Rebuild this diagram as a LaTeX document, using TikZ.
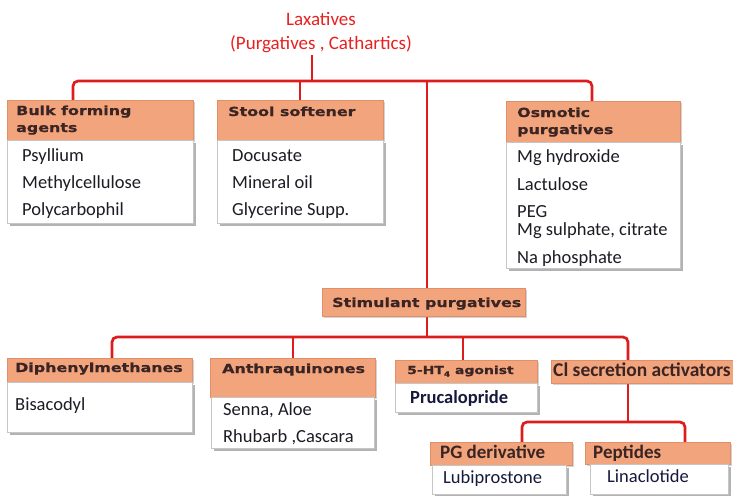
\documentclass[tikz,border=0pt]{standalone}
\usepackage{fontspec}
\setmainfont{Carlito}
\newfontfamily\hdrfont{DejaVu Sans}[UprightFont=* Bold, FakeStretch=1.27, FakeBold=0.6]
\usetikzlibrary{shadows}
\definecolor{salmon}{RGB}{242,164,124}
\definecolor{hdrborder}{RGB}{226,142,104}
\definecolor{linered}{RGB}{222,28,28}
\definecolor{titlered}{RGB}{232,32,32}
\definecolor{hdrtext}{RGB}{58,36,36}
\definecolor{bodytext}{RGB}{28,28,36}
\definecolor{navytext}{RGB}{22,24,60}
\pgfdeclarelayer{bg}
\pgfsetlayers{bg,main}
\tikzset{
  conn/.style={draw=linered, line width=2.7pt, rounded corners=5pt},
  hdr/.style={draw=hdrborder, fill=salmon, line width=0.6pt, anchor=north west, inner sep=0pt,
    drop shadow={shadow xshift=1.2pt, shadow yshift=-1.2pt, fill=gray, opacity=0.35}},
  bodybox/.style={draw=gray!45, fill=white, line width=0.8pt, anchor=north west, inner sep=0pt,
    drop shadow={shadow xshift=2.5pt, shadow yshift=-2.5pt, fill=gray, opacity=0.6}},
  htxt/.style={anchor=base west, inner sep=0pt, font=\hdrfont\fontsize{12.5}{14}\selectfont, text=hdrtext},
  btxt/.style={anchor=base west, inner sep=0pt, font=\fontsize{18.5}{20}\selectfont, text=bodytext},
  ctxt/.style={anchor=base west, inner sep=0pt, font=\bfseries\fontsize{19}{21}\selectfont, text=hdrtext},
  ttxt/.style={anchor=base, inner sep=0pt, font=\fontsize{19}{21}\selectfont, text=titlered},
}
\begin{document}
\begin{tikzpicture}[x=1pt,y=-1pt]
\useasboundingbox (0,0) rectangle (733,495);
\clip (0,0) rectangle (733,495);

% title
\node[ttxt] (title1) at (321,26) {Laxatives};
\node[ttxt] (title2) at (321,49) {(Purgatives , Cathartics)};

% first level boxes
\node[hdr, minimum width=186pt, minimum height=40pt] (bulkH) at (7,100) {};
\node[bodybox, minimum width=186pt, minimum height=83pt] (bulkB) at (7,140) {};
\node[htxt] (bulkT1) at (16,115) {Bulk forming};
\node[htxt] (bulkT2) at (16,132) {agents};
\node[btxt] (bulk1) at (22,161) {Psyllium};
\node[btxt] (bulk2) at (22,188) {Methylcellulose};
\node[btxt] (bulk3) at (22,215) {Polycarbophil};

\node[hdr, minimum width=166pt, minimum height=40pt] (stoolH) at (217,100) {};
\node[bodybox, minimum width=166pt, minimum height=83pt] (stoolB) at (217,140) {};
\node[htxt] (stoolT) at (228,116) {Stool softener};
\node[btxt] (stool1) at (232,161) {Docusate};
\node[btxt] (stool2) at (232,188) {Mineral oil};
\node[btxt] (stool3) at (232,215) {Glycerine Supp.};

\node[hdr, minimum width=174pt, minimum height=41pt] (osmH) at (506,101) {};
\node[bodybox, minimum width=174pt, minimum height=126pt] (osmB) at (506,142) {};
\node[htxt] (osmT1) at (517,117) {Osmotic};
\node[htxt] (osmT2) at (517,134) {purgatives};
\node[btxt] (osm1) at (517,162) {Mg hydroxide};
\node[btxt] (osm2) at (517,190) {Lactulose};
\node[btxt] (osm3) at (517,217) {PEG};
\node[btxt] (osm4) at (517,235) {Mg sulphate, citrate};
\node[btxt] (osm5) at (517,263) {Na phosphate};

% stimulant
\node[hdr, minimum width=203pt, minimum height=28pt] (stim) at (322,288) {};
\node[htxt] (stimT) at (332,307) {Stimulant purgatives};

% second level
\node[hdr, minimum width=185pt, minimum height=24pt] (diphH) at (7,358) {};
\node[bodybox, minimum width=185pt, minimum height=50pt] (diphB) at (7,382) {};
\node[htxt] (diphT) at (15,372) {Diphenylmethanes};
\node[btxt] (diph1) at (15,410) {Bisacodyl};

\node[hdr, minimum width=165pt, minimum height=39pt] (anthH) at (210,358) {};
\node[bodybox, minimum width=163pt, minimum height=51pt] (anthB) at (211,397) {};
\node[htxt] (anthT) at (222,373) {Anthraquinones};
\node[btxt] (anth1) at (223,415) {Senna, Aloe};
\node[btxt] (anth2) at (223,442) {Rhubarb ,Cascara};

\node[hdr, minimum width=142pt, minimum height=23pt] (htH) at (395,360) {};
\node[bodybox, minimum width=142pt, minimum height=29pt] (htB) at (395,383) {};
\node[htxt, font=\hdrfont\fontsize{11}{13}\selectfont] (htT) at (407,374) {5-HT\raisebox{-2.5pt}{\fontsize{7}{8}\selectfont 4} agonist};
\node[btxt, font=\bfseries\fontsize{18.5}{20}\selectfont, text=navytext] (ht1) at (410,403) {Prucalopride};

\node[hdr, minimum width=182pt, minimum height=23pt] (cl) at (551,360) {};
\node[ctxt, font=\bfseries\fontsize{19.5}{21}\selectfont] (clT) at (553,376) {Cl secretion activators};

% third level
\node[hdr, minimum width=142pt, minimum height=23pt] (pgH) at (430,442) {};
\node[bodybox, minimum width=134pt, minimum height=29pt] (pgB) at (432,465) {};
\node[ctxt] (pgT) at (440,458) {PG derivative};
\node[btxt, text=navytext] (pg1) at (443,483) {Lubiprostone};

\node[hdr, minimum width=145pt, minimum height=22pt] (pepH) at (585,442) {};
\node[bodybox, minimum width=138pt, minimum height=30pt] (pepB) at (590,464) {};
\node[ctxt] (pepT) at (593,458) {Peptides};
\node[btxt, text=navytext] (pep1) at (607,482) {Linaclotide};

% connectors
\coordinate (tl) at (312,81);
\coordinate (b1) at (73,81);
\coordinate (b2) at (300,81);
\coordinate (b3) at (427,81);
\coordinate (b4) at (592,81);
\coordinate (s0) at (427,337);
\coordinate (c1) at (112,337);
\coordinate (c2) at (293,337);
\coordinate (c3) at (463,337);
\coordinate (c4) at (628,337);
\coordinate (e0) at (628,422);
\coordinate (e1) at (522,422);
\coordinate (e2) at (685,422);
\begin{pgfonlayer}{bg}
\draw[conn] (tl |- title2.south) ++(0,3) -- (tl);
\draw[conn] (b1 |- bulkH.north) -- (b1) -- (b4) -- (b4 |- osmH.north);
\draw[conn] (b2) -- (b2 |- stoolH.north);
\draw[conn] (b3) -- (b3 |- stim.north);
\draw[conn] (s0 |- stim.south) -- (s0);
\draw[conn] (c1 |- diphH.north) -- (c1) -- (c4) -- (c4 |- cl.north);
\draw[conn] (c2) -- (c2 |- anthH.north);
\draw[conn] (c3) -- (c3 |- htH.north);
\draw[conn] (e0 |- cl.south) -- (e0);
\draw[conn] (e1 |- pgH.north) -- (e1) -- (e2) -- (e2 |- pepH.north);
\end{pgfonlayer}
\end{tikzpicture}
\end{document}
